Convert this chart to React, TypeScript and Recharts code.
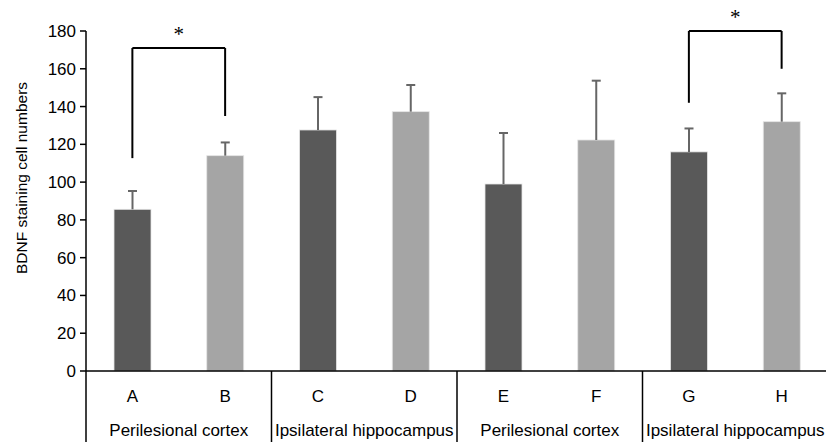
import { BarChart, Bar, XAxis, YAxis, ReferenceLine } from 'recharts';

// Bar groups A-H, mean BDNF+ cell counts and upper error (SD)
const CATEGORIES = ['A', 'B', 'C', 'D', 'E', 'F', 'G', 'H'];
const MEANS = [85.6, 114, 127.6, 137.3, 99, 122.3, 116, 132];
const ERRORS = [9.7, 7, 17.4, 14.1, 27, 31.4, 12.4, 15];
const GROUPS = ['Perilesional cortex', 'Ipsilateral hippocampus', 'Perilesional cortex', 'Ipsilateral hippocampus'];
const Y_TICKS = [0, 20, 40, 60, 80, 100, 120, 140, 160, 180];

// significance brackets: [left cat, right cat, bar height, left leg end, right leg end]
const BRACKETS: [string, string, number, number, number][] = [
  ['A', 'B', 171, 112.7, 135],
  ['G', 'H', 180, 142, 160],
];

const DARK = '#595959';
const LIGHT = '#a5a5a5';
const FONT = '"Liberation Sans", Arial, sans-serif';

const Y_AXIS_W = 86;
const PLOT_W = 742;
const BAND = PLOT_W / CATEGORIES.length;

const data = CATEGORIES.map((c, i) => ({ cat: c, mean: MEANS[i], err: ERRORS[i] }));

// bar + upward-only error whisker, scaled from the bar's own geometry
function BarWithError(props: any) {
  const { x, y, width, height, payload, index } = props;
  const perUnit = height / payload.mean;
  const top = y - payload.err * perUnit;
  const cx = x + width / 2;
  return (
    <g>
      <rect x={x} y={y} width={width} height={height} fill={index % 2 === 0 ? DARK : LIGHT} stroke="#e6e6e6" strokeWidth={0.8} />
      <line x1={cx} y1={y} x2={cx} y2={top} stroke="#666" strokeWidth={2} />
      <line x1={cx - 4.5} y1={top} x2={cx + 4.5} y2={top} stroke="#666" strokeWidth={2} />
    </g>
  );
}

function CategoryTick(props: any) {
  const { x, y, payload, index } = props;
  return (
    <g>
      <text x={x} y={y + 31} textAnchor="middle" fontSize={17} fontFamily={FONT} fill="#000">
        {payload.value}
      </text>
      {index % 2 === 0 && (
        <>
          <line x1={x - BAND / 2} y1={y} x2={x - BAND / 2} y2={y + 71} stroke="#000" strokeWidth={1.5} />
          <text x={x + BAND / 2} y={y + 65} textAnchor="middle" fontSize={17} fontFamily={FONT} fill="#000">
            {GROUPS[index / 2]}
          </text>
        </>
      )}
    </g>
  );
}

export default function App() {
  return (
    <div style={{ position: 'absolute', left: 0, top: 0, width: 826, height: 442, overflow: 'hidden', background: '#fff' }}>
      <BarChart
        width={Y_AXIS_W + PLOT_W}
        height={442}
        data={data}
        margin={{ top: 31, right: 0, left: 0, bottom: 0 }}
        barCategoryGap={0}
      >
        <XAxis
          dataKey="cat"
          height={71}
          tickSize={0}
          tickMargin={0}
          tickLine={false}
          interval={0}
          axisLine={{ stroke: '#000', strokeWidth: 1.5 }}
          tick={<CategoryTick />}
        />
        <YAxis
          width={Y_AXIS_W}
          domain={[0, 180]}
          ticks={Y_TICKS}
          tickSize={6}
          tickMargin={4}
          axisLine={{ stroke: '#000', strokeWidth: 1.5 }}
          tickLine={{ stroke: '#000', strokeWidth: 1.5 }}
          tick={{ fontSize: 17, fontFamily: FONT, fill: '#000' }}
          label={{
            value: 'BDNF staining cell numbers',
            angle: -90,
            position: 'center',
            dx: -22,
            dy: -23,
            style: { fontSize: 15.5, fontFamily: FONT, fill: '#000' },
          }}
        />
        <Bar dataKey="mean" barSize={37} shape={<BarWithError />} isAnimationActive={false} />
        {BRACKETS.map(([l, r, h, ll, rl]) => [
          <ReferenceLine
            key={l + 'h'}
            segment={[{ x: l, y: h }, { x: r, y: h }]}
            stroke="#000"
            strokeWidth={2}
            ifOverflow="visible"
            label={{ value: '*', position: 'top', offset: 7, style: { fontSize: 21, fontFamily: '"Liberation Serif", serif', fill: '#000' } }}
          />,
          <ReferenceLine key={l + 'l'} segment={[{ x: l, y: h }, { x: l, y: ll }]} stroke="#000" strokeWidth={2} ifOverflow="visible" />,
          <ReferenceLine key={l + 'r'} segment={[{ x: r, y: h }, { x: r, y: rl }]} stroke="#000" strokeWidth={2} ifOverflow="visible" />,
        ])}
      </BarChart>
    </div>
  );
}
